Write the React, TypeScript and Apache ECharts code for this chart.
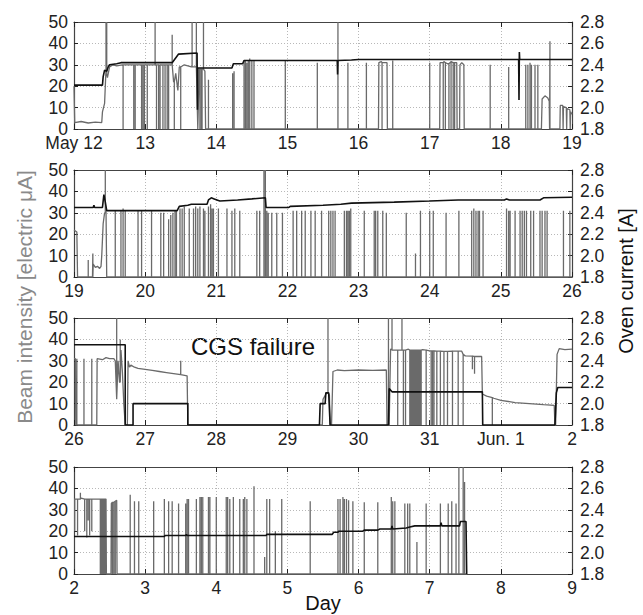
import React, { useEffect, useRef } from "react";
import * as echarts from "echarts";

// ---------- tick labels / ranges ----------
const panelMin = [12, 19, 26, 2];
const panelMax = [19, 26, 33, 9];
const tickLabels1 = ["May 12", "13", "14", "15", "16", "17", "18", "19"];
const tickLabels2 = ["19", "20", "21", "22", "23", "24", "25", "26"];
const tickLabels3 = ["26", "27", "28", "29", "30", "31", "Jun. 1", "2"];
const tickLabels4 = ["2", "3", "4", "5", "6", "7", "8", "9"];
const tickLabels = [tickLabels1, tickLabels2, tickLabels3, tickLabels4];

// ---------- beam intensity (electric µA) : trace points [day, value] ----------
const beamTrace1 = [
  [12.0, 20], [12.01, 3], [12.1, 3.5], [12.2, 2.8], [12.3, 3.2], [12.39, 3], [12.4, 8], [12.43, 12],
  [12.45, 28], [12.47, 24], [12.5, 29], [12.55, 30], [12.6, 29.5], [12.68, 30], [13.0, 30], [13.2, 29.5],
  [13.37, 30], [13.4, 22], [13.43, 26], [13.46, 18], [13.48, 29], [13.55, 30], [13.65, 29], [13.72, 29],
  [13.74, 0], [13.76, 28], [13.84, 27], [13.85, 0], [16.28, 0], [16.285, 31], [16.32, 31.5], [16.35, 31],
  [16.4, 31], [16.405, 0], [17.14, 0], [17.145, 31], [17.2, 31.5], [17.25, 30.5], [17.3, 31.5], [17.38, 31],
  [17.385, 0], [17.42, 0], [17.425, 30], [17.45, 31], [17.48, 30], [17.485, 0], [18.57, 0], [18.58, 14],
  [18.62, 15.5], [18.66, 14.5], [18.68, 13], [18.685, 0], [18.83, 0], [18.835, 11], [18.87, 11], [18.875, 0],
  [18.88, 10.5], [18.92, 10], [18.925, 0], [18.93, 9.5], [18.97, 9], [18.975, 0], [18.98, 8], [19.0, 7],
];
// excursions [day, level before, extreme]
const beamExc1 = [
  [12.45, 28, 50], [12.46, 26, 50], [12.69, 30, 0], [12.84, 30, 0], [12.86, 30, 0], [12.95, 30, 0],
  [12.97, 30, 0], [12.99, 30, 0], [13.03, 30, 0], [13.14, 30, 50], [13.16, 30, 0], [13.19, 30, 0],
  [13.21, 30, 0], [13.25, 30, 0], [13.28, 30, 0], [13.31, 30, 0], [13.33, 30, 0], [13.38, 30, 44],
  [13.41, 22, 0], [13.5, 29, 0], [13.66, 29, 50], [13.72, 29, 50], [13.77, 28, 0], [13.79, 28, 0],
  [13.8, 28, 0], [13.82, 28, 50], [13.89, 0, 23], [14.23, 0, 26], [14.25, 0, 27], [14.39, 0, 32],
  [14.41, 0, 32], [14.43, 0, 31], [14.45, 0, 32], [14.47, 0, 33], [14.5, 0, 32], [14.53, 0, 32],
  [14.97, 0, 32], [15.42, 0, 31], [15.71, 0, 50], [15.85, 0, 31], [16.11, 0, 31], [16.33, 31, 0],
  [16.48, 0, 32], [17.0, 0, 31], [17.19, 31, 0], [17.22, 31, 0], [17.27, 30.5, 0], [17.3, 31.5, 0],
  [17.33, 31, 0], [17.35, 31, 0], [17.85, 0, 30], [18.11, 0, 29], [18.35, 0, 30], [18.38, 0, 30],
  [18.41, 0, 31], [18.43, 0, 30], [18.48, 0, 30], [18.52, 0, 30], [18.69, 0, 41],
];

const beamTrace2 = [
  [19.0, 22], [19.04, 21], [19.05, 0], [19.26, 0], [19.27, 6], [19.3, 4.5], [19.33, 5], [19.36, 4],
  [19.38, 5], [19.39, 10], [19.41, 25], [19.43, 30], [19.45, 31], [19.46, 0], [26.0, 0],
];
const beamExc2 = [
  [19.2, 0, 8], [19.265, 0, 11], [19.44, 30, 50], [19.58, 0, 31], [19.66, 0, 31], [19.69, 0, 32],
  [19.72, 0, 31], [19.9, 0, 31], [19.95, 0, 31], [20.09, 0, 31], [20.22, 0, 30], [20.26, 0, 30],
  [20.33, 0, 27], [20.36, 0, 29], [20.39, 0, 30], [20.42, 0, 31], [20.44, 0, 31], [20.49, 0, 32],
  [20.52, 0, 32], [20.55, 0, 33], [20.62, 0, 32], [20.68, 0, 32], [20.71, 0, 33], [20.74, 0, 32],
  [20.77, 0, 33], [20.82, 0, 32], [20.84, 0, 31], [20.89, 0, 33], [20.92, 0, 34], [20.94, 0, 32],
  [20.96, 0, 32], [21.03, 0, 32], [21.15, 0, 32], [21.22, 0, 31], [21.26, 0, 32], [21.33, 0, 31],
  [21.57, 0, 31], [21.61, 0, 31], [21.67, 0, 50], [21.69, 0, 50], [21.71, 0, 31], [21.73, 0, 30],
  [21.78, 0, 30], [21.85, 0, 30], [21.93, 0, 30], [22.08, 0, 31], [22.13, 0, 31], [22.2, 0, 31],
  [22.25, 0, 31], [22.33, 0, 31], [22.39, 0, 31], [22.48, 0, 31], [22.58, 0, 31], [22.61, 0, 31],
  [22.64, 0, 31], [22.67, 0, 31], [22.8, 0, 31], [22.83, 0, 31], [22.85, 0, 31], [22.87, 0, 31],
  [22.89, 0, 32], [23.08, 0, 31], [23.22, 0, 31], [23.24, 0, 31], [23.27, 0, 31], [23.34, 0, 31],
  [23.39, 0, 30], [23.67, 0, 30], [23.8, 0, 11], [23.87, 0, 31], [24.0, 0, 31], [24.05, 0, 31],
  [24.23, 0, 30], [24.41, 0, 31], [24.59, 0, 31], [24.62, 0, 32], [24.65, 0, 31], [24.68, 0, 31],
  [24.7, 0, 31], [24.75, 0, 31], [25.08, 0, 32], [25.11, 0, 31], [25.13, 0, 31], [25.2, 0, 31],
  [25.27, 0, 31], [25.3, 0, 31], [25.33, 0, 31], [25.36, 0, 31], [25.42, 0, 31], [25.46, 0, 31],
  [25.55, 0, 31], [25.58, 0, 31], [25.62, 0, 31], [25.65, 0, 31], [25.88, 0, 31], [25.97, 0, 31],
];

const beamTrace3 = [
  [26.0, 31], [26.02, 31], [26.025, 0], [26.32, 0], [26.325, 31], [26.4, 30.5], [26.45, 31.5], [26.5, 31],
  [26.56, 31], [26.58, 30], [26.6, 12], [26.62, 30], [26.64, 20], [26.66, 35], [26.68, 25], [26.7, 10],
  [26.72, 0], [26.75, 0], [26.76, 30], [26.78, 27], [26.8, 28], [26.85, 27], [26.9, 26.5], [27.0, 26],
  [27.1, 25.5], [27.2, 25], [27.3, 24.5], [27.4, 24], [27.5, 23.5], [27.59, 23], [27.6, 0], [29.49, 0],
  [29.5, 12], [29.55, 15], [29.59, 14], [29.6, 0], [29.62, 0], [29.64, 25], [29.7, 25.7], [29.8, 25.4],
  [30.0, 25.7], [30.2, 25.5], [30.39, 25.7], [30.4, 0], [30.43, 0], [30.45, 35.5], [30.5, 35], [30.7, 35.4],
  [30.9, 35.2], [31.0, 34.6], [31.2, 34.4], [31.45, 34.5], [31.5, 32.3], [31.73, 32], [31.74, 14.5],
  [31.8, 13.5], [31.9, 12.5], [32.0, 11.5], [32.2, 10.5], [32.4, 10], [32.6, 9.5], [32.75, 9.2], [32.76, 0],
  [32.77, 0], [32.79, 33], [32.82, 35.7], [32.9, 35.2], [33.0, 35.5],
];
const beamExc3 = [
  [26.04, 0, 31], [26.14, 0, 31], [26.25, 0, 31], [26.6, 12, 50], [26.65, 20, 40], [27.5, 23.5, 30],
  [29.57, 15, 50], [30.42, 0, 50], [30.47, 35, 50], [30.61, 35, 50], [30.55, 35, 0], [30.63, 35, 0],
  [30.66, 35, 0], [30.72, 35, 0], [30.73, 35, 0], [30.74, 35, 0], [30.75, 35, 0], [30.76, 35, 0],
  [30.77, 35, 0], [30.78, 35, 0], [30.79, 35, 0], [30.8, 35, 0], [30.81, 35, 0], [30.82, 35, 0],
  [30.83, 35, 0], [30.84, 35, 0], [30.85, 35, 0], [30.86, 35, 0], [30.87, 35, 0], [30.88, 35, 0],
  [30.95, 35, 0], [31.02, 34.6, 0], [31.04, 34.6, 0], [31.06, 34.6, 0], [31.1, 34.5, 0], [31.15, 34.5, 0],
  [31.2, 34.4, 0], [31.25, 34.4, 0], [31.32, 34.5, 0], [31.4, 34.5, 0], [31.47, 33, 0], [31.6, 32.2, 26],
  [31.63, 32.1, 24], [31.88, 12.8, 0],
];

const beamTrace4 = [
  [2.0, 35], [2.1, 35.5], [2.3, 35], [2.45, 35], [2.455, 0], [2.52, 0], [2.525, 33], [2.6, 34.5],
  [2.605, 0], [7.52, 0],
];
const beamExc4 = [
  [2.01, 35, 20], [2.05, 35, 18], [2.09, 35, 38], [2.15, 35, 20], [2.18, 35, 17], [2.2, 35, 25],
  [2.22, 35, 18], [2.25, 35, 20], [2.37, 35, 0], [2.38, 35, 0], [2.39, 35, 0], [2.4, 35, 0], [2.41, 35, 0],
  [2.42, 35, 0], [2.43, 35, 0], [2.44, 35, 0], [2.54, 33.5, 0], [2.56, 33.5, 0], [2.58, 34, 0],
  [2.79, 0, 37], [2.85, 0, 34], [2.91, 0, 34], [3.12, 0, 34], [3.27, 0, 35], [3.33, 0, 34], [3.38, 0, 34],
  [3.47, 0, 33], [3.57, 0, 33], [3.59, 0, 35], [3.61, 0, 35], [3.72, 0, 35], [3.77, 0, 36], [3.79, 0, 36],
  [3.81, 0, 36], [3.89, 0, 36], [3.91, 0, 36], [4.0, 0, 36], [4.14, 0, 36], [4.16, 0, 36], [4.19, 0, 35],
  [4.24, 0, 36], [4.33, 0, 35], [4.38, 0, 35], [4.4, 0, 36], [4.43, 0, 35], [4.53, 0, 41], [4.68, 0, 8],
  [4.71, 0, 35], [4.75, 0, 35], [4.83, 0, 20], [4.92, 0, 35], [5.32, 0, 34], [5.71, 0, 35], [5.74, 0, 35],
  [5.78, 0, 36], [5.8, 0, 35], [5.83, 0, 35], [5.86, 0, 34.5], [5.92, 0, 34], [6.08, 0, 33.5],
  [6.27, 0, 33.5], [6.46, 0, 36], [6.48, 0, 34], [6.51, 0, 34], [6.65, 0, 33], [6.69, 0, 33], [6.72, 0, 33],
  [6.82, 0, 15], [6.95, 0, 33], [7.15, 0, 33], [7.26, 0, 33], [7.31, 0, 34], [7.37, 0, 33], [7.41, 0, 50],
  [7.47, 0, 50], [7.49, 0, 43],
];

// ---------- oven current (A) ----------
const oven1 = [
  [12.0, 2.21], [12.4, 2.21], [12.41, 2.29], [12.43, 2.35], [12.46, 2.34], [12.48, 2.38], [12.5, 2.4],
  [12.6, 2.41], [12.66, 2.42], [13.38, 2.42], [13.47, 2.5], [13.73, 2.51], [13.735, 1.98], [13.74, 2.37],
  [14.22, 2.37], [14.24, 2.41], [14.37, 2.41], [14.39, 2.44], [15.7, 2.44], [15.705, 2.31], [15.71, 2.44],
  [15.9, 2.445], [16.0, 2.45], [18.25, 2.45], [18.255, 2.07], [18.26, 2.52], [18.265, 2.45], [19.0, 2.45],
];
const oven2 = [
  [19.0, 2.45], [19.27, 2.45], [19.28, 2.47], [19.29, 2.45], [19.4, 2.45], [19.42, 2.57], [19.44, 2.5],
  [19.46, 2.42], [20.45, 2.42], [20.48, 2.46], [20.6, 2.47], [20.65, 2.48], [20.87, 2.48], [20.89, 2.52],
  [20.93, 2.54], [20.97, 2.53], [21.05, 2.51], [21.3, 2.52], [21.5, 2.53], [21.69, 2.54], [21.7, 2.45],
  [22.02, 2.45], [22.04, 2.46], [22.5, 2.47], [22.75, 2.48], [22.9, 2.49], [23.5, 2.5], [24.0, 2.51],
  [24.4, 2.52], [25.05, 2.52], [25.08, 2.53], [25.12, 2.52], [25.55, 2.52], [25.6, 2.54], [26.0, 2.545],
];
const oven3 = [
  [26.0, 2.55], [26.72, 2.55], [26.72, 1.8], [26.83, 1.8], [26.83, 2.0], [27.6, 2.0], [27.6, 1.8],
  [29.45, 1.8], [29.46, 2.0], [29.53, 2.0], [29.54, 2.1], [29.58, 2.1], [29.6, 1.8], [30.42, 1.8],
  [30.43, 2.14], [30.47, 2.11], [31.74, 2.11], [31.745, 1.8], [32.76, 1.8], [32.78, 2.1], [32.8, 2.15],
  [33.0, 2.15],
];
const oven4 = [
  [2.0, 2.15], [3.27, 2.15], [3.28, 2.16], [3.57, 2.16], [3.58, 2.17], [3.59, 2.16], [4.7, 2.16],
  [4.71, 2.17], [5.63, 2.17], [5.65, 2.19], [5.71, 2.19], [5.72, 2.2], [6.06, 2.2], [6.08, 2.21],
  [6.27, 2.21], [6.3, 2.22], [6.46, 2.22], [6.47, 2.25], [6.48, 2.22], [6.67, 2.23], [6.72, 2.24],
  [6.79, 2.25], [7.15, 2.25], [7.16, 2.28], [7.17, 2.25], [7.42, 2.25], [7.43, 2.29], [7.51, 2.29],
  [7.52, 1.8],
];

const beamTraces = [beamTrace1, beamTrace2, beamTrace3, beamTrace4];
const beamExcs = [beamExc1, beamExc2, beamExc3, beamExc4];
const ovens = [oven1, oven2, oven3, oven4];

function buildBeam(trace: number[][], exc: number[][]) {
  const items: { t: number; k: number; pts: number[][] }[] = [];
  trace.forEach((p, i) => items.push({ t: p[0], k: i, pts: [p] }));
  exc.forEach(([t, base, peak], i) =>
    items.push({ t, k: 10000 + i, pts: [[t, base], [t, peak], [t, base]] })
  );
  items.sort((a, b) => a.t - b.t || a.k - b.k);
  return items.flatMap((it) => it.pts);
}

const FONT = "Liberation Sans, Arial, sans-serif";
const GRID_TOPS = [22, 170, 318, 467];
const GRID_H = 107;

export default function App() {
  const ref = useRef<HTMLDivElement>(null);
  useEffect(() => {
    if (!ref.current) return;
    const chart = echarts.init(ref.current, null, { renderer: "svg" });
    const grids: any[] = [];
    const xAxes: any[] = [];
    const yAxes: any[] = [];
    const series: any[] = [];
    const axisLine = { show: true, lineStyle: { color: "#444", width: 1.2 } };
    const tick = { show: true, inside: true, length: 5, lineStyle: { color: "#222", width: 1 } };
    const split = { show: true, lineStyle: { color: "#b8b8b8", width: 1, type: [1, 2] } };
    for (let i = 0; i < 4; i++) {
      grids.push({ left: 74, right: 71, top: GRID_TOPS[i], height: GRID_H });
      const labels = tickLabels[i];
      const mn = panelMin[i];
      xAxes.push({
        gridIndex: i, type: "value", min: mn, max: panelMax[i], interval: 1, position: "bottom",
        axisLine, axisTick: tick, splitLine: split,
        axisLabel: {
          fontSize: 17.5, color: "#222", fontFamily: FONT, margin: 6, lineHeight: 16,
          formatter: (v: number) => labels[Math.round(v - mn)] ?? "",
        },
      });
      xAxes.push({
        gridIndex: i, type: "value", min: mn, max: panelMax[i], interval: 1, position: "top",
        axisLine, axisTick: tick, splitLine: { show: false }, axisLabel: { show: false },
      });
      yAxes.push({
        gridIndex: i, type: "value", min: 0, max: 50, interval: 10, position: "left",
        axisLine, axisTick: { ...tick, length: 4 }, splitLine: split,
        axisLabel: { fontSize: 17.5, color: "#222", fontFamily: FONT, margin: 6, lineHeight: 14 },
      });
      yAxes.push({
        gridIndex: i, type: "value", min: 1.8, max: 2.8, interval: 0.2, position: "right",
        axisLine, axisTick: { ...tick, length: 4 }, splitLine: { show: false },
        axisLabel: {
          fontSize: 17.5, color: "#222", fontFamily: FONT, margin: 8, lineHeight: 14,
          formatter: (v: number) => v.toFixed(1),
        },
      });
      series.push({
        type: "line", xAxisIndex: 2 * i, yAxisIndex: 2 * i, data: buildBeam(beamTraces[i], beamExcs[i]),
        showSymbol: false, lineStyle: { color: "#6a6a6a", width: 1.3 }, z: 2, silent: true,
      });
      series.push({
        type: "line", xAxisIndex: 2 * i, yAxisIndex: 2 * i + 1, data: ovens[i],
        showSymbol: false, lineStyle: { color: "#111", width: 1.6 }, z: 3, silent: true,
      });
    }
    chart.setOption({
      animation: false,
      backgroundColor: "#fff",
      grid: grids,
      xAxis: xAxes,
      yAxis: yAxes,
      series,
      graphic: [
        {
          type: "text", x: 24, y: 297, rotation: Math.PI / 2,
          style: { text: "Beam intensity [electric μA]", fontSize: 21, fontFamily: FONT, fill: "#8a8a8a", align: "center", verticalAlign: "middle" },
        },
        {
          type: "text", x: 626, y: 281, rotation: Math.PI / 2,
          style: { text: "Oven current [A]", fontSize: 20, fontFamily: FONT, fill: "#111", align: "center", verticalAlign: "middle" },
        },
        {
          type: "text", x: 323, y: 603,
          style: { text: "Day", fontSize: 20, fontFamily: FONT, fill: "#111", align: "center", verticalAlign: "middle" },
        },
        {
          type: "text", x: 253, y: 346,
          style: { text: "CGS failure", fontSize: 24, fontFamily: FONT, fill: "#111", align: "center", verticalAlign: "middle" },
        },
      ],
    });
    return () => chart.dispose();
  }, []);
  return <div ref={ref} style={{ position: "absolute", left: 0, top: 0, width: 643, height: 615 }} />;
}
